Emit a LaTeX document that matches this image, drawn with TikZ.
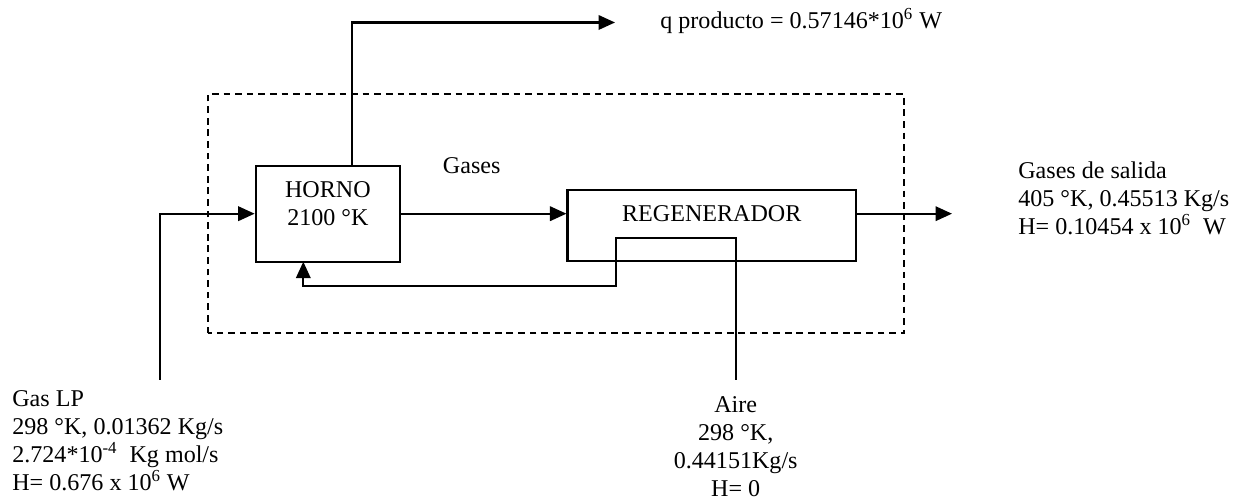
\documentclass[tikz,border=0pt]{standalone}
\usepackage{fontspec}
\setmainfont{Liberation Serif}
\usetikzlibrary{arrows.meta}

\begin{document}
\begin{tikzpicture}[
  every node/.style={font=\fontsize{13.7}{15.9}\selectfont, inner sep=0pt},
  blk/.style={draw, line width=1.2pt},
  pipe/.style={line width=1.2pt},
  flow/.style={pipe, -{Triangle[length=3.3mm,width=2.9mm]}},
  ]
  \useasboundingbox (0,0) rectangle (25,10);

  \draw[line width=1.2pt, dash pattern=on 3.8pt off 2.8pt] (4.154,3.334) rectangle (18.08,8.12);

  \node[blk, minimum width=2.886cm, minimum height=1.92cm] (h) at (6.557,5.726) {};
  \node[blk, minimum width=5.77cm, minimum height=1.42cm] (r) at (14.235,5.49) {};
  \node[anchor=north, align=center] (ht) at (6.557,6.37) {HORNO\\2100 °K};
  \node[anchor=base] (rt) at (14.235,5.566) {REGENERADOR};
  \node[anchor=base] (g) at (9.434,6.52) {Gases};
  \node[anchor=base west] (q) at (13.2,9.42) {q producto = 0.57146*10\textsuperscript{6} W};
  \node[anchor=north west, align=left] (lp) at (0.24,2.19)
    {Gas LP\\298 °K, 0.01362 Kg/s\\2.724*10\textsuperscript{-4}\ \ Kg mol/s\\H= 0.676 x 10\textsuperscript{6} W};
  \node[anchor=north, align=center] (ai) at (14.714,2.07)
    {Aire\\298 °K,\\0.44151Kg/s\\H= 0};
  \node[anchor=north west, align=left] (s) at (20.36,6.77)
    {Gases de salida\\405 °K, 0.45513 Kg/s\\H= 0.10454 x 10\textsuperscript{6}\ \ W};

  \coordinate (lp0) at (3.2,2.4);
  \coordinate (ai0) at (14.714,2.4);
  \coordinate (out) at (19.04,5.726);
  \coordinate (qp) at (12.3,9.55);

  \draw[flow] (lp0) |- (h.west);
  \draw[flow] (h.east) -- (h.east -| r.west);
  \draw[flow] (h.east -| r.east) -- (out);
  \draw[flow] (7.034,6.686) |- (qp);
  \draw[flow] (ai0) -- (14.714,5.234) -- (12.32,5.234) -- (12.32,4.286) -| (6.066,4.766);
\end{tikzpicture}
\end{document}
